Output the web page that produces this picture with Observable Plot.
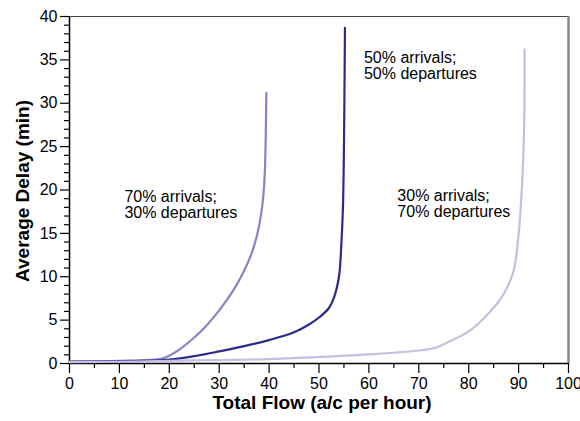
<!DOCTYPE html>
<html>
<head>
<meta charset="utf-8">
<script src="https://cdn.jsdelivr.net/npm/d3@7"></script>
<script src="https://cdn.jsdelivr.net/npm/@observablehq/plot@0.6"></script>
<style>
  html, body { margin: 0; padding: 0; background: white; }
</style>
</head>
<body>
<div id="chart"></div>
<script>
// Series: 70% arrivals / 30% departures
const flowA  = [0, 5, 10, 15, 18, 20, 22, 25, 27, 29, 31, 33, 35, 36.5, 37.5, 38.2, 38.7, 39.0, 39.2, 39.35, 39.45];
const delayA = [0.25, 0.27, 0.3, 0.38, 0.5, 0.9, 1.6, 3.0, 4.1, 5.4, 6.9, 8.6, 10.7, 12.7, 14.6, 16.5, 18.5, 20.5, 23.0, 27.0, 31.2];
// Series: 50% arrivals / 50% departures
const flowB  = [0, 5, 10, 15, 20, 25, 30, 35, 40, 45, 48, 50, 52, 53, 54, 54.5, 54.8, 55.0, 55.1, 55.2];
const delayB = [0.2, 0.22, 0.25, 0.3, 0.45, 0.85, 1.4, 2.0, 2.7, 3.6, 4.5, 5.3, 6.4, 7.6, 10.0, 14.0, 18.0, 25.0, 31.0, 38.7];
// Series: 30% arrivals / 70% departures
const flowC  = [0, 10, 20, 30, 40, 50, 60, 70, 73.5, 76, 80, 84, 87, 89, 90, 90.7, 91.1, 91.2];
const delayC = [0.15, 0.2, 0.3, 0.4, 0.5, 0.75, 1.05, 1.5, 1.85, 2.5, 3.7, 5.8, 8.0, 10.7, 14.9, 20.7, 27.0, 36.2];

const seriesNames = ["70/30", "50/50", "30/70"];
const seriesColors = ["#8783c5", "#2b2b8d", "#c3c0e2"];

const labelTexts = ["70% arrivals;\n30% departures", "50% arrivals;\n50% departures", "30% arrivals;\n70% departures"];
const labelX = [11.0, 59.0, 65.7];
const labelY = [18.3, 34.3, 18.4];

const xMajorTicks = [0, 10, 20, 30, 40, 50, 60, 70, 80, 90, 100];
const xMinorTicks = [5, 15, 25, 35, 45, 55, 65, 75, 85, 95];
const yMajorTicks = [0, 5, 10, 15, 20, 25, 30, 35, 40];
const yMinorTicks = d3.range(0, 41).filter(v => v % 5 !== 0);

const xTitle = "Total Flow (a/c per hour)";
const yTitle = "Average Delay (min)";

const rows = [];
[[flowA, delayA], [flowB, delayB], [flowC, delayC]].forEach(([fx, fy], i) => {
  fx.forEach((v, j) => rows.push({series: seriesNames[i], flow: v, delay: fy[j]}));
});
const labels = labelTexts.map((t, i) => ({text: t, x: labelX[i], y: labelY[i]}));

const chart = Plot.plot({
  width: 580,
  height: 421,
  marginLeft: 69,
  marginRight: 12,
  marginTop: 16,
  marginBottom: 58,
  x: {domain: [0, 100]},
  y: {domain: [0, 40]},
  color: {domain: seriesNames, range: seriesColors},
  style: {fontFamily: "Liberation Sans, Arial, sans-serif", fontSize: "16px", color: "black", background: "white", overflow: "visible"},
  marks: [
    Plot.ruleY([40], {stroke: "#444", strokeWidth: 1.2}),
    Plot.ruleX([100], {stroke: "#888", strokeWidth: 2.5}),
    Plot.axisX({ticks: xMajorTicks, tickSize: 10, tickPadding: 4, label: null, stroke: "black", strokeWidth: 1.2, fontSize: 16}),
    Plot.axisX({ticks: xMinorTicks, tickSize: 5, text: null, label: null, stroke: "black", strokeWidth: 1.2}),
    Plot.axisY({ticks: yMajorTicks, tickSize: 9, tickPadding: 3, label: null, stroke: "black", strokeWidth: 1.2, fontSize: 16}),
    Plot.axisY({ticks: yMinorTicks, tickSize: 5, text: null, label: null, stroke: "black", strokeWidth: 1.2}),
    Plot.ruleX([0], {stroke: "black", strokeWidth: 1.5}),
    Plot.ruleY([0], {stroke: "black", strokeWidth: 1.5}),
    Plot.line(rows, {x: "flow", y: "delay", z: "series", stroke: "series", curve: "catmull-rom", strokeWidth: 2.2}),
    Plot.text(labels, {x: "x", y: "y", text: "text", textAnchor: "start", lineHeight: 1.0, fontSize: 16, fill: "black"}),
    Plot.text([xTitle], {frameAnchor: "bottom", textAnchor: "middle", dy: 45, dx: 3, fontWeight: "bold", fontSize: 19, fill: "black"}),
    Plot.text([yTitle], {frameAnchor: "left", textAnchor: "middle", dx: -47, dy: 1, rotate: -90, fontWeight: "bold", fontSize: 19, fill: "black"})
  ]
});
document.getElementById("chart").appendChild(chart);
</script>
</body>
</html>
